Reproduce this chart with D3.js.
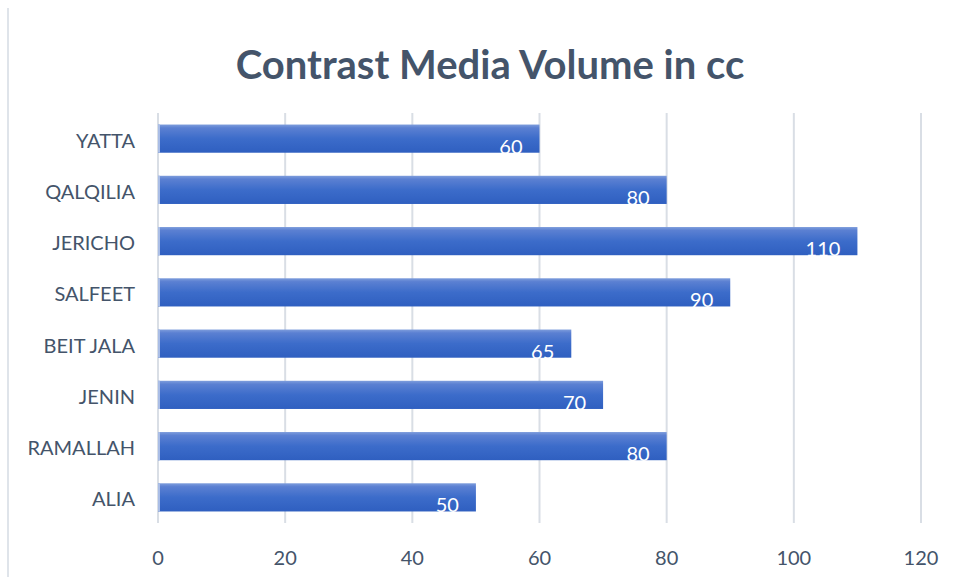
<!DOCTYPE html>
<html>
<head>
<meta charset="utf-8">
<script src="https://cdn.jsdelivr.net/npm/d3@7"></script>
<style>
  body { margin: 0; background: #fff; }
  text { font-family: Lato, "Open Sans", sans-serif; }
</style>
</head>
<body>
<div id="chart"></div>
<script>
const categories = ["ALIA", "RAMALLAH", "JENIN", "BEIT JALA", "SALFEET", "JERICHO", "QALQILIA", "YATTA"];
const volumes = [50, 80, 70, 65, 90, 110, 80, 60];
const xTicks = [0, 20, 40, 60, 80, 100, 120];
const titleText = "Contrast Media Volume in cc";

const width = 956, height = 577;
const plot = {left: 158, right: 921, top: 113, bottom: 523};

const svg = d3.select("#chart").append("svg")
  .attr("width", width).attr("height", height);

// gradient fill for the bars
const defs = svg.append("defs");
const grad = defs.append("linearGradient").attr("id", "barGrad")
  .attr("x1", 0).attr("y1", 0).attr("x2", 0).attr("y2", 1);
grad.append("stop").attr("offset", "0%").attr("stop-color", "#7e9ddc");
grad.append("stop").attr("offset", "12%").attr("stop-color", "#5b80d2");
grad.append("stop").attr("offset", "50%").attr("stop-color", "#3c6cca");
grad.append("stop").attr("offset", "100%").attr("stop-color", "#2f5fc0");

// left frame line
svg.append("line")
  .attr("x1", 8).attr("x2", 8).attr("y1", 8).attr("y2", height)
  .attr("stroke", "#dfe4ea").attr("stroke-width", 2);

const x = d3.scaleLinear().domain([0, 120]).range([plot.left, plot.right]);
const y = d3.scaleBand().domain(categories.slice().reverse())
  .range([plot.top, plot.bottom]).paddingInner(0.45).paddingOuter(0.225);

// gridlines
svg.append("g").selectAll("line")
  .data(xTicks)
  .join("line")
    .attr("x1", d => x(d)).attr("x2", d => x(d))
    .attr("y1", plot.top).attr("y2", plot.bottom)
    .attr("stroke", "#d9dee5").attr("stroke-width", 2);

// bars
const data = categories.map((c, i) => ({cat: c, value: volumes[i]}));
svg.append("g").selectAll("rect")
  .data(data)
  .join("rect")
    .attr("x", x(0))
    .attr("y", d => y(d.cat))
    .attr("width", d => x(d.value) - x(0))
    .attr("height", y.bandwidth())
    .attr("fill", "url(#barGrad)");

// left edge highlight on bars
svg.append("g").selectAll("line")
  .data(data)
  .join("line")
    .attr("x1", x(0) + 1).attr("x2", x(0) + 1)
    .attr("y1", d => y(d.cat)).attr("y2", d => y(d.cat) + y.bandwidth())
    .attr("stroke", "#a9bde6").attr("stroke-width", 2);

// data labels
svg.append("g").selectAll("text")
  .data(data)
  .join("text")
    .attr("x", d => x(d.value) - 17)
    .attr("y", d => y(d.cat) + y.bandwidth() / 2 + 15)
    .attr("text-anchor", "end")
    .attr("font-size", "20px")
    .attr("fill", "#ffffff")
    .text(d => d.value);

// category labels
svg.append("g").selectAll("text")
  .data(categories)
  .join("text")
    .attr("x", 135)
    .attr("y", d => y(d) + y.bandwidth() / 2 + 4)
    .attr("text-anchor", "end")
    .attr("dominant-baseline", "middle")
    .attr("font-size", "20px")
    .attr("fill", "#44546a")
    .text(d => d);

// x tick labels
svg.append("g").selectAll("text")
  .data(xTicks)
  .join("text")
    .attr("x", d => x(d))
    .attr("y", 560)
    .attr("text-anchor", "middle")
    .attr("dominant-baseline", "middle")
    .attr("font-size", "20px")
    .attr("fill", "#44546a")
    .text(d => d);

// title
svg.append("text")
  .attr("x", 490)
  .attr("y", 69)
  .attr("text-anchor", "middle")
  .attr("dominant-baseline", "middle")
  .attr("font-size", "40px")
  .attr("font-weight", "bold")
  .attr("fill", "#44546a")
  .text(titleText);
</script>
</body>
</html>
